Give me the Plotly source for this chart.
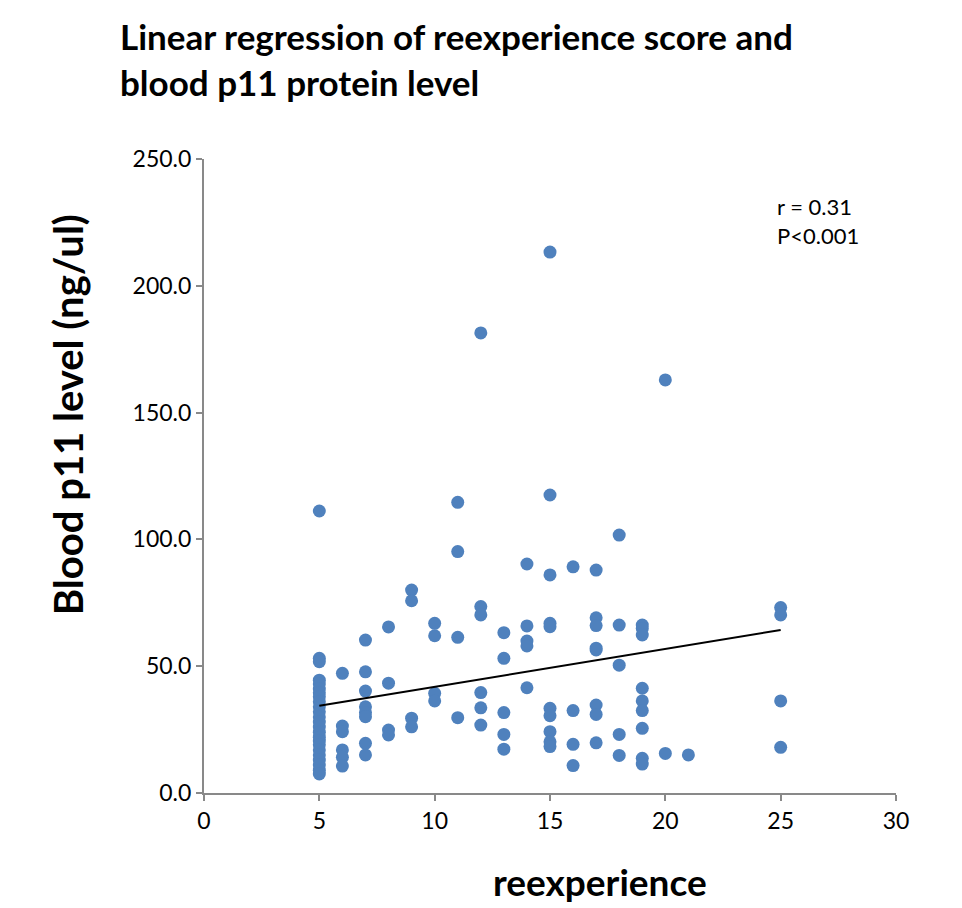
import plotly.graph_objects as go

# reexperience score (x) and blood p11 level (y), read per column
x5 = [5] * 24
y5 = [111.2, 53.1, 51.8, 44.5, 43.0, 41.0, 39.5, 38.0, 36.0, 34.0, 32.0, 30.0, 28.0, 26.0,
      24.0, 22.0, 20.5, 19.0, 17.0, 15.0, 13.0, 11.0, 9.0, 7.5]
x6 = [6] * 6
y6 = [47.2, 26.4, 24.2, 17.0, 14.1, 10.6]
x7 = [7] * 8
y7 = [60.3, 47.8, 40.2, 34.0, 31.7, 30.1, 19.6, 15.0]
x8 = [8] * 4
y8 = [65.5, 43.3, 24.8, 22.9]
x9 = [9] * 4
y9 = [80.0, 75.8, 29.5, 26.1]
x10 = [10] * 4
y10 = [66.9, 62.0, 39.3, 36.3]
x11 = [11] * 4
y11 = [114.6, 95.2, 61.4, 29.7]
x12 = [12] * 6
y12 = [181.4, 73.5, 70.2, 39.6, 33.6, 26.8]
x13 = [13] * 5
y13 = [63.2, 53.1, 31.7, 23.1, 17.3]
x14 = [14] * 5
y14 = [90.3, 65.9, 59.9, 58.0, 41.5]
x15 = [15] * 10
y15 = [213.3, 117.5, 86.0, 66.9, 65.6, 33.4, 30.5, 24.2, 20.2, 18.3]
x16 = [16] * 4
y16 = [89.2, 32.5, 19.2, 10.8]
x17 = [17] * 8
y17 = [87.9, 69.1, 66.0, 57.1, 56.4, 34.7, 31.0, 19.8]
x18 = [18] * 5
y18 = [101.7, 66.2, 50.4, 23.1, 14.8]
x19 = [19] * 9
y19 = [66.2, 64.9, 62.3, 41.3, 36.3, 32.5, 25.5, 13.7, 11.4]
x20 = [20] * 2
y20 = [162.9, 15.6]
x21 = [21]
y21 = [15.0]
x25 = [25] * 4
y25 = [73.1, 70.2, 36.3, 18.0]

xs = x5 + x6 + x7 + x8 + x9 + x10 + x11 + x12 + x13 + x14 + x15 + x16 + x17 + x18 + x19 + x20 + x21 + x25
ys = y5 + y6 + y7 + y8 + y9 + y10 + y11 + y12 + y13 + y14 + y15 + y16 + y17 + y18 + y19 + y20 + y21 + y25

# regression line
fit_x = [5, 25]
intercept = 26.9
slope = 1.495
fit_y = [intercept + slope * v for v in fit_x]

x_ticks = [0, 5, 10, 15, 20, 25, 30]
y_ticks = [0, 50, 100, 150, 200, 250]
y_tick_labels = ["0.0", "50.0", "100.0", "150.0", "200.0", "250.0"]

FONT = "Lato, 'Open Sans', sans-serif"

fig = go.Figure()
fig.add_trace(go.Scatter(
    x=xs, y=ys, mode="markers",
    marker=dict(size=13, color="#4F81BD"),
    showlegend=False, cliponaxis=False,
))
fig.add_trace(go.Scatter(
    x=fit_x, y=fit_y, mode="lines",
    line=dict(color="black", width=2),
    showlegend=False,
))

axis_common = dict(
    showgrid=False, zeroline=False, showline=True,
    linecolor="#898989", linewidth=2,
    ticks="outside", ticklen=6, tickcolor="#898989", tickwidth=2,
    tickfont=dict(family=FONT, size=23, color="black"),
)
fig.update_xaxes(range=[0, 30], tickvals=x_ticks, **axis_common)
fig.update_yaxes(range=[0, 250], tickvals=y_ticks, ticktext=y_tick_labels, **axis_common)

fig.update_layout(
    width=962, height=908,
    margin=dict(l=196, r=74, t=151, b=123),
    paper_bgcolor="white", plot_bgcolor="white",
    font=dict(family=FONT, color="black"),
    annotations=[
        dict(text="<b>Linear regression of reexperience score and<br>blood p11 protein level</b>",
             xref="paper", yref="paper", x=-0.1243, y=1.1577, xanchor="left", yanchor="middle",
             align="left", showarrow=False, font=dict(family=FONT, size=35, color="black")),
        dict(text="r = 0.31<br>P<0.001", xref="paper", yref="paper",
             x=0.825, y=0.902, xanchor="left", yanchor="middle", align="left",
             showarrow=False, font=dict(family=FONT, size=22, color="black")),
        dict(text="<b>Blood p11 level (ng/ul)</b>", xref="paper", yref="paper",
             x=-0.1965, y=0.596, textangle=-90, xanchor="center", yanchor="middle",
             showarrow=False, font=dict(family=FONT, size=40, color="black")),
        dict(text="<b>reexperience</b>", xref="paper", yref="paper",
             x=0.572, y=-0.14, xanchor="center", yanchor="middle",
             showarrow=False, font=dict(family=FONT, size=37, color="black")),
    ],
)

fig.write_html("out.html")
